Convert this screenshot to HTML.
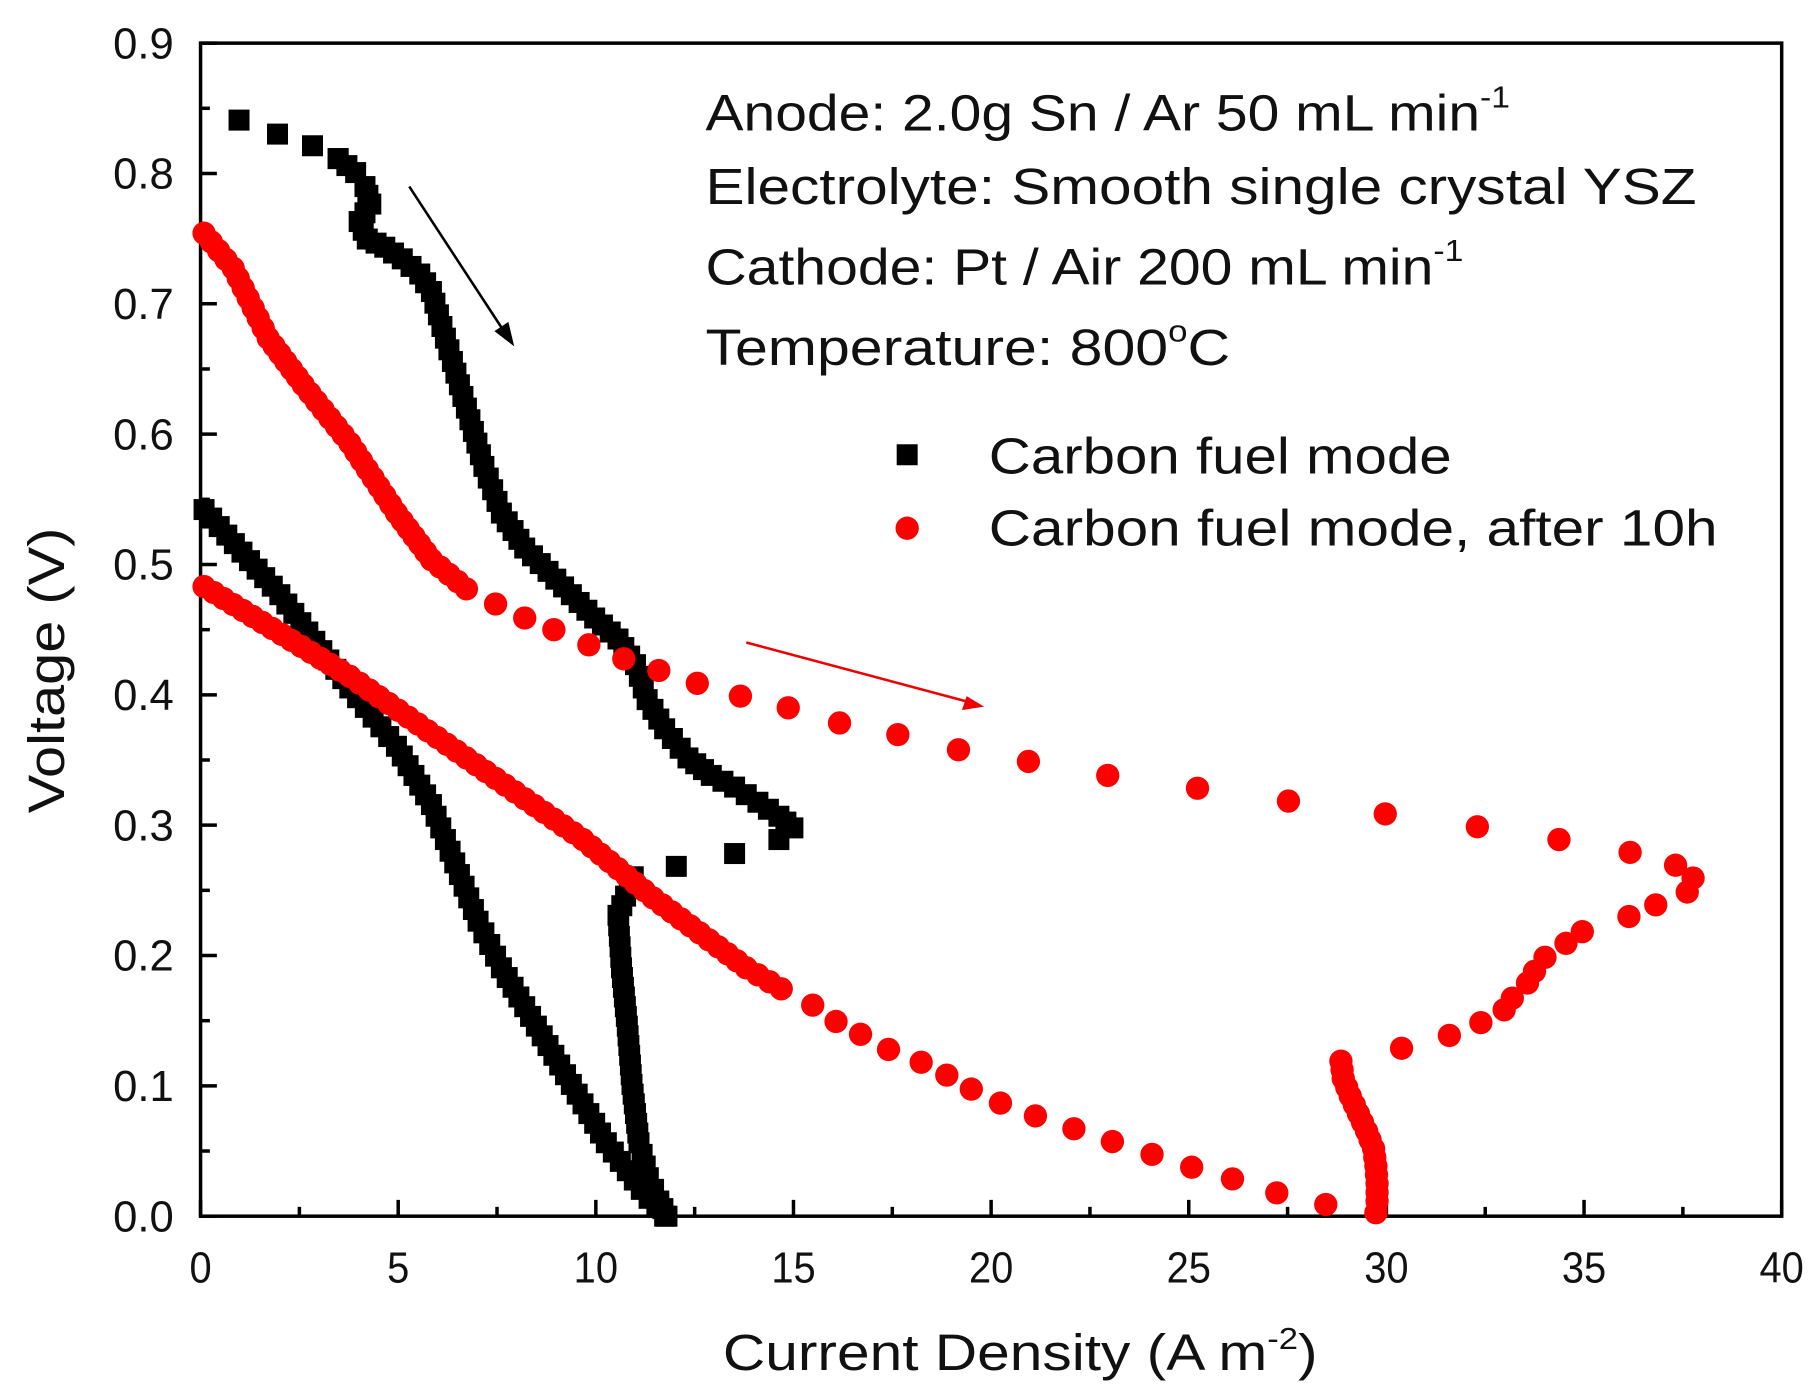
<!DOCTYPE html>
<html><head><meta charset="utf-8"><style>html,body{margin:0;padding:0;background:#fff}svg{display:block}</style></head>
<body>
<svg id="s" width="1819" height="1396" viewBox="0 0 1560 1197.2" preserveAspectRatio="none" xmlns="http://www.w3.org/2000/svg" font-family="Liberation Sans, Arial, sans-serif">
<rect x="0" y="0" width="1560" height="1198" fill="#fff"/>
<rect x="172" y="37" width="1356" height="1006" fill="none" stroke="#000" stroke-width="3"/>
<g id="ticks" stroke="#000" stroke-width="3"></g>
<g font-size="37" fill="#111" text-anchor="end" id="ylab"></g>
<g font-size="37" fill="#111" text-anchor="middle" id="xlab"></g>
<text x="875" y="1175" font-size="44" text-anchor="middle" fill="#111" textLength="510" lengthAdjust="spacingAndGlyphs">Current Density (A m<tspan dy="-18" font-size="26">-2</tspan><tspan dy="18">)</tspan></text>
<text transform="translate(55,575) rotate(-90)" font-size="44" text-anchor="middle" fill="#111" textLength="245" lengthAdjust="spacingAndGlyphs">Voltage (V)</text>
<g font-size="44" fill="#111">
<text x="605" y="112" textLength="690" lengthAdjust="spacingAndGlyphs">Anode: 2.0g Sn / Ar 50 mL min<tspan dy="-20" font-size="26">-1</tspan></text>
<text x="605" y="175" textLength="850" lengthAdjust="spacingAndGlyphs">Electrolyte: Smooth single crystal YSZ</text>
<text x="605" y="244" textLength="650" lengthAdjust="spacingAndGlyphs">Cathode: Pt / Air 200 mL min<tspan dy="-20" font-size="26">-1</tspan></text>
<text x="605" y="313" textLength="450" lengthAdjust="spacingAndGlyphs">Temperature: 800<tspan dy="-20" font-size="26">o</tspan><tspan dy="20">C</tspan></text>
<text x="848" y="406" textLength="397" lengthAdjust="spacingAndGlyphs">Carbon fuel mode</text>
<text x="848" y="468" textLength="625" lengthAdjust="spacingAndGlyphs">Carbon fuel mode, after 10h</text>
</g>
<rect x="769" y="381" width="18" height="18" fill="#000"/>
<circle cx="778" cy="453" r="10" fill="#f00"/>
<line x1="351" y1="160" x2="438" y2="293" stroke="#000" stroke-width="2.2"/>
<path d="M441,297 L424,284 L436,276 Z" fill="#000"/>
<line x1="640" y1="551" x2="838" y2="604" stroke="#e00" stroke-width="2.2"/>
<path d="M844,606 L825,609 L829,597 Z" fill="#e00"/>
<g id="data"></g>
</svg>
<script>
var NS="http://www.w3.org/2000/svg";
function el(p,t,a){var e=document.createElementNS(NS,t);for(var k in a)e.setAttribute(k,a[k]);document.getElementById(p).appendChild(e);return e;}
function X(v){return 172+v*33.9}function Y(v){return 1043-v*1117.8}
for(var i=0;i<=18;i++){var y=Y(i*0.05),L=i%2==0?14:8;el('ticks','line',{x1:172,y1:y,x2:172+L,y2:y});}
for(var i=0;i<=16;i++){var x=X(i*2.5),L=i%2==0?14:8;el('ticks','line',{x1:x,y1:1043,x2:x,y2:1043-L});}
for(var i=0;i<=9;i++){var t=el('ylab','text',{x:149,y:Y(i*0.1)+13,textLength:52,lengthAdjust:'spacingAndGlyphs'});t.textContent=(i/10).toFixed(1);}
for(var i=0;i<=8;i++){var s=String(i*5);var t=el('xlab','text',{x:X(i*5),y:1100,textLength:s.length*19,lengthAdjust:'spacingAndGlyphs'});t.textContent=s;}
function dense(pts,step){var out=[pts[0]];for(var i=1;i<pts.length;i++){var a=pts[i-1],b=pts[i],d=Math.hypot(b[0]-a[0],b[1]-a[1]),n=Math.max(1,Math.round(d/step));for(var j=1;j<=n;j++)out.push([a[0]+(b[0]-a[0])*j/n,a[1]+(b[1]-a[1])*j/n]);}return out;}
function sq(pts){pts.forEach(function(p){el('data','rect',{x:p[0]-9,y:p[1]-9,width:18,height:18,fill:'#000'});});}
function ci(pts){pts.forEach(function(p){el('data','circle',{cx:p[0],cy:p[1],r:10,fill:'#f00'});});}
sq([[205,103],[238,115],[268,125],[290,136]]);
sq(dense([[290,136],[305,148],[313,160],[318,175],[308,190],[315,205],[330,212],[345,222],[360,235],[370,250],[385,300],[400,350],[415,400],[430,440],[450,470],[470,490],[490,510],[510,530],[530,548],[545,570],[555,600],[570,625],[590,650],[610,665],[630,675],[650,688],[668,700],[680,710]],10));
sq([[668,720],[630,732],[580,743],[543,752]]);
sq(dense([[543,752],[530,785],[533,830],[538,880],[542,930],[548,980],[556,1010],[565,1030],[572,1043]],9));
sq(dense([[175,437],[240,510],[300,590],[340,640],[370,690],[390,740],[410,790],[430,830],[460,880],[490,930],[520,980],[550,1020],[570,1043]],10));
ci(dense([[175,200],[200,230],[230,290],[260,330],[300,380],[340,440],[370,480],[400,505]],9));
ci([[425,518],[450,530],[475,540],[505,553],[535,565],[565,575],[598,586],[635,597],[676,607],[720,620],[770,630],[822,643],[882,653],[950,665],[1027,676],[1105,687],[1188,698],[1267,709],[1337,720],[1398,731],[1437,742],[1452,753],[1447,765],[1420,776],[1397,786],[1357,799],[1343,809],[1325,821],[1316,833],[1310,843],[1297,856],[1290,866],[1270,877],[1243,888],[1202,899]]);
ci(dense([[1150,910],[1152,925],[1158,940],[1165,955],[1172,970],[1178,985],[1180,1000],[1181,1015],[1181,1030],[1180,1040]],8));
ci(dense([[175,503],[300,580],[400,650],[500,720],[530,745],[560,770],[600,800],[640,830],[670,848]],10));
ci([[697,862],[717,876],[738,887],[762,900],[790,911],[812,922],[833,934],[858,946],[888,957],[921,968],[954,979],[988,990],[1022,1001],[1057,1011],[1095,1023],[1137,1033]]);
</script>
</body></html>
